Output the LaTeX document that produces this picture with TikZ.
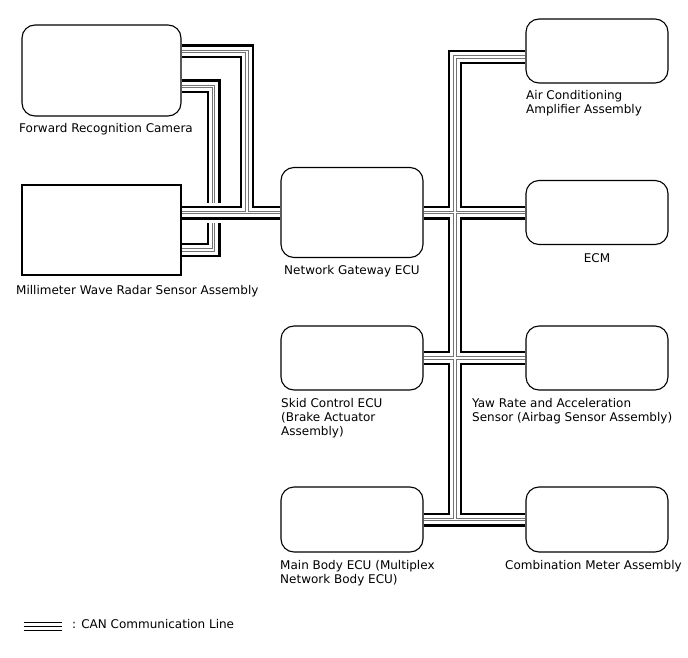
\documentclass[tikz,border=0pt]{standalone}
\usepackage{fontspec}
\setmainfont{DejaVu Sans}
\usetikzlibrary{backgrounds}
\newcommand\canlayers[1]{%
  \foreach \w/\c in {14/black,9.6/white,3.4/black!55,1.6/white}{\draw[line width=\w pt,\c] #1;}}
\begin{document}
\begin{tikzpicture}[x=1pt,y=-1pt,
  box/.style={draw, line width=1.1pt, rounded corners=13pt, minimum width=142pt, minimum height=64pt, inner sep=0pt},
  sqbox/.style={draw, line width=1.1pt, inner sep=0pt},
  lbl/.style={inner sep=0pt, anchor=base west, font=\fontsize{12}{14}\selectfont},
]
\useasboundingbox (0,0) rectangle (688,658);
% boxes
\node[box, minimum width=159pt, minimum height=91pt] (cam) at (101.5,70.5) {};
\node[sqbox, minimum width=159pt, minimum height=90pt] (rad) at (101.5,230) {};
\node[box, minimum height=90pt] (gw) at (352,212.5) {};
\node[box] (ac) at (597,51) {};
\node[box] (ecm) at (597,212.5) {};
\node[box] (skid) at (352,358) {};
\node[box] (yaw) at (597,358) {};
\node[box, minimum height=65pt] (mb) at (352,519.5) {};
\node[box, minimum height=65pt] (cm) at (597,519.5) {};
% junction coordinates
\coordinate (j1) at (247,212.5);
\coordinate (j2) at (213.5,250);
\coordinate (rt) at (455,57);
\begin{pgfonlayer}{background}
\fill[white] (0,0) rectangle (688,658);
% camera <-> radar line (crosses under the bus)
\canlayers{([yshift=-16pt]cam.east) -| (j2) -- (rad.east |- j2)}
\draw[white, line width=20pt] ([xshift=-10.5pt]j2 |- gw.west) -- ([xshift=10.5pt]j2 |- gw.west);
% left bus
\canlayers{([yshift=19pt]cam.east) -| (j1) (rad.east |- gw.west) -- (gw.west)}
% right bus
\canlayers{(ac.west |- rt) -- (rt) -- (rt |- mb.east) (gw.east) -- (ecm.west) (skid.east) -- (yaw.west) (mb.east) -- (cm.west)}
\end{pgfonlayer}
% legend
\draw[line width=1.5pt] (23.5,622.7) -- (61.5,622.7);
\draw[line width=1.5pt] (23.5,626.7) -- (61.5,626.7);
\draw[line width=1.5pt] (23.5,630.7) -- (61.5,630.7);
% labels
\node[lbl] (caml) at (19,132) {Forward Recognition Camera};
\node[lbl] (radl) at (16,294) {Millimeter Wave Radar Sensor Assembly};
\node[lbl] (gwl) at (284,274.5) {Network Gateway ECU};
\node[lbl] (acl) at (526,99.5) {\begin{tabular}[t]{@{}l@{}}Air Conditioning\\Amplifier Assembly\end{tabular}};
\node[lbl, anchor=base] (ecml) at (597,262.5) {ECM};
\node[lbl] (skidl) at (281,407) {\begin{tabular}[t]{@{}l@{}}Skid Control ECU\\(Brake Actuator\\Assembly)\end{tabular}};
\node[lbl] (yawl) at (472,407) {\begin{tabular}[t]{@{}l@{}}Yaw Rate and Acceleration\\Sensor (Airbag Sensor Assembly)\end{tabular}};
\node[lbl] (mbl) at (280,569.5) {\begin{tabular}[t]{@{}l@{}}Main Body ECU (Multiplex\\Network Body ECU)\end{tabular}};
\node[lbl] (cml) at (505,569.5) {Combination Meter Assembly};
\node[lbl] (legl) at (72,628) {: CAN Communication Line};
\end{tikzpicture}
\end{document}
